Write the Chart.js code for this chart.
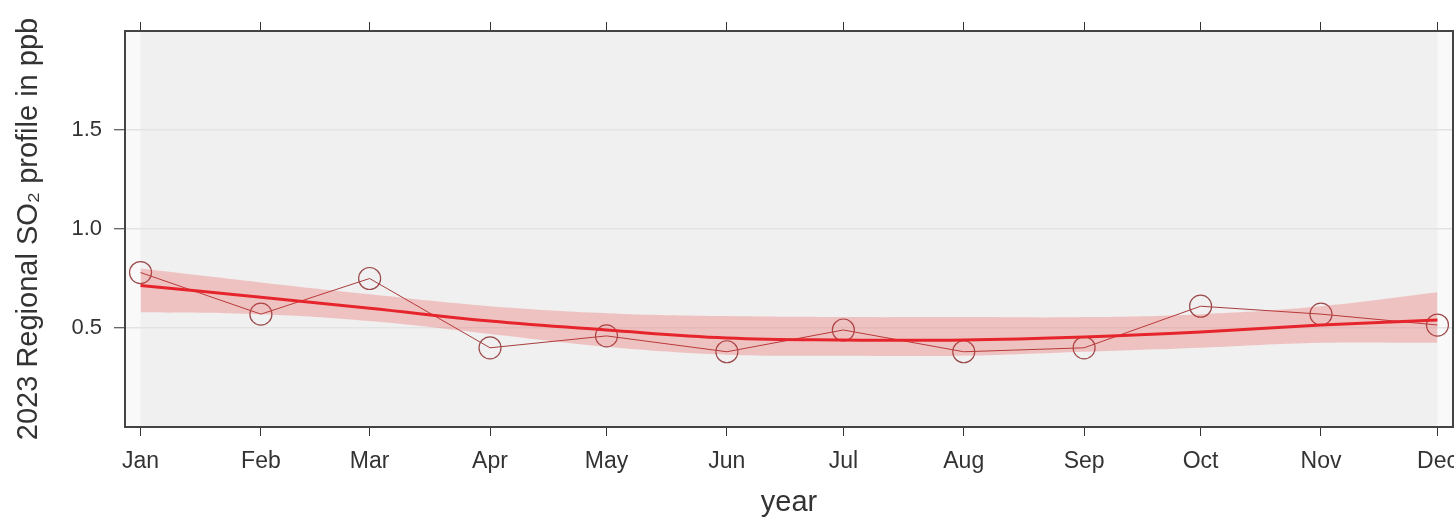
<!DOCTYPE html>
<html>
<head>
<meta charset="utf-8">
<script src="https://cdn.jsdelivr.net/npm/chart.js@4.4.0/dist/chart.umd.min.js"></script>
<style>
  html, body { margin: 0; padding: 0; background: #ffffff; }
  #wrap { width: 1454px; height: 520px; }
</style>
</head>
<body>
<div id="wrap"><canvas id="c"></canvas></div>
<script>
// month labels and their day-of-year offsets (time axis)
const months = ['Jan', 'Feb', 'Mar', 'Apr', 'May', 'Jun', 'Jul', 'Aug', 'Sep', 'Oct', 'Nov', 'Dec'];
const monthDays = [0, 31, 59, 90, 120, 151, 181, 212, 243, 273, 304, 334];

// monthly means (ppb)
const so2Monthly = [0.78, 0.57, 0.75, 0.40, 0.46, 0.38, 0.49, 0.38, 0.40, 0.61, 0.57, 0.515];
// smooth trend and its confidence band
const trendLine = [0.715, 0.655, 0.60, 0.535, 0.49, 0.45, 0.44, 0.44, 0.455, 0.48, 0.515, 0.54];
const bandUpper = [0.80, 0.73, 0.67, 0.61, 0.575, 0.56, 0.555, 0.555, 0.555, 0.57, 0.61, 0.68];
const bandLower = [0.58, 0.57, 0.535, 0.47, 0.405, 0.365, 0.36, 0.36, 0.38, 0.40, 0.425, 0.425];

const yTicks = [0.5, 1.0, 1.5];

const toPts = arr => arr.map((v, i) => ({ x: monthDays[i], y: v }));

const FONT = "'Liberation Sans', Arial, sans-serif";

// grey panel behind the data range + frame round the plot
const panel = {
    id: 'panel',
    beforeDraw(chart) {
        const { ctx, chartArea: a, scales: { x } } = chart;
        ctx.save();
        ctx.fillStyle = '#f9f9f9';
        ctx.fillRect(a.left, a.top, a.width, a.height);
        const x0 = x.getPixelForValue(monthDays[0]);
        const x1 = x.getPixelForValue(monthDays[monthDays.length - 1]);
        ctx.fillStyle = '#f0f0f0';
        ctx.fillRect(x0, a.top, x1 - x0, a.height);
        ctx.restore();
    },
    afterDraw(chart) {
        const { ctx, chartArea: a } = chart;
        ctx.save();
        ctx.strokeStyle = '#444';
        ctx.lineWidth = 2;
        ctx.strokeRect(a.left, a.top, a.width, a.height);
        ctx.restore();
    }
};

const monthTicks = scale => { scale.ticks = monthDays.map(v => ({ value: v })); };
const noPad = s => { s.paddingLeft = 0; s.paddingRight = 0; s.paddingTop = 0; s.paddingBottom = 0; };

new Chart(document.getElementById('c'), {
    type: 'line',
    data: {
        datasets: [
            {
                data: toPts(bandUpper),
                borderWidth: 0,
                pointRadius: 0,
                tension: 0.4,
                backgroundColor: 'rgba(240, 50, 50, 0.24)',
                fill: '+1'
            },
            {
                data: toPts(bandLower),
                borderWidth: 0,
                pointRadius: 0,
                tension: 0.4,
                fill: false
            },
            {
                data: toPts(trendLine),
                borderColor: '#e3222a',
                borderWidth: 3,
                pointRadius: 0,
                tension: 0.4,
                fill: false
            },
            {
                data: toPts(so2Monthly),
                borderColor: '#a83c3c',
                borderWidth: 1,
                pointRadius: 11,
                pointBorderWidth: 1.2,
                pointBorderColor: '#9a4a4a',
                pointBackgroundColor: 'rgba(0,0,0,0)',
                tension: 0,
                fill: false
            }
        ]
    },
    options: {
        responsive: true,
        maintainAspectRatio: false,
        animation: false,
        layout: { autoPadding: false, padding: { left: 0, right: 1, top: 0, bottom: 0 } },
        plugins: {
            legend: { display: false },
            tooltip: { enabled: false }
        },
        scales: {
            x: {
                type: 'linear',
                position: 'bottom',
                min: -4,
                max: 338,
                afterBuildTicks: monthTicks,
                afterFit: s => { s.height = 93; noPad(s); },
                border: { display: false },
                grid: {
                    drawOnChartArea: false,
                    drawTicks: true,
                    tickLength: 9,
                    tickColor: '#333',
                    tickWidth: 1
                },
                ticks: {
                    autoSkip: false,
                    maxRotation: 0,
                    padding: 12,
                    color: '#333',
                    font: { family: FONT, size: 23 },
                    callback: v => months[monthDays.indexOf(v)]
                },
                title: {
                    display: true,
                    text: 'year',
                    color: '#333',
                    font: { family: FONT, size: 29 },
                    padding: { top: 0, bottom: 0 }
                }
            },
            xTop: {
                type: 'linear',
                position: 'top',
                min: -4,
                max: 338,
                afterBuildTicks: monthTicks,
                afterFit: s => { s.height = 31; noPad(s); },
                border: { display: false },
                grid: {
                    drawOnChartArea: false,
                    drawTicks: true,
                    tickLength: 9,
                    tickColor: '#333',
                    tickWidth: 1
                },
                ticks: { display: false }
            },
            y: {
                min: 0,
                max: 2,
                afterBuildTicks: s => { s.ticks = yTicks.map(v => ({ value: v })); },
                afterFit: s => { s.width = 125; noPad(s); },
                border: { display: false },
                grid: {
                    color: '#e3e3e3',
                    lineWidth: 1.5,
                    tickLength: 11,
                    tickColor: '#333',
                    tickWidth: 1
                },
                ticks: {
                    padding: 12,
                    color: '#333',
                    font: { family: FONT, size: 22 },
                    callback: v => v.toFixed(1)
                },
                title: {
                    display: true,
                    text: '2023 Regional SO₂ profile in ppb',
                    color: '#333',
                    font: { family: FONT, size: 29 },
                    padding: { top: 12, bottom: 0 }
                }
            }
        }
    },
    plugins: [panel]
});
</script>
</body>
</html>
